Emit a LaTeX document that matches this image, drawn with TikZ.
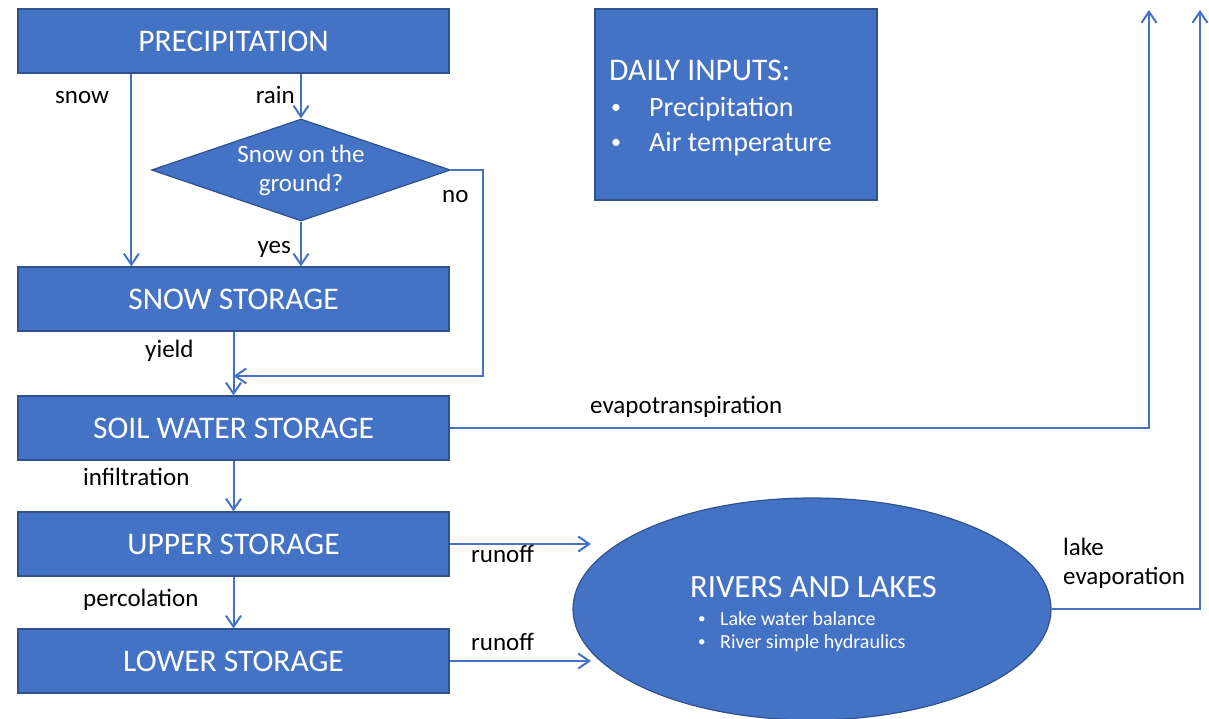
\documentclass[tikz,border=0pt]{standalone}
\usepackage{fontspec}
\setmainfont{Carlito}
\usetikzlibrary{shapes.geometric,arrows.meta}
\definecolor{fillblue}{HTML}{4472C4}
\definecolor{edgeblue}{HTML}{2F528F}
\tikzset{
  box/.style={draw=edgeblue,line width=1.2pt,fill=fillblue,text=white,
    minimum width=431pt,minimum height=64pt,inner sep=0pt,
    font=\fontsize{31.5}{36}\selectfont},
  lbl/.style={inner sep=0pt,font=\fontsize{25}{28}\selectfont},
  wtxt/.style={inner sep=0pt,text=white,anchor=base west},
  flow/.style={draw=fillblue,line width=2pt,
    -{Straight Barb[length=11pt,width=15pt,line width=2pt]}},
}
\begin{document}
\begin{tikzpicture}[x=1pt,y=-1pt]
\useasboundingbox (0,0) rectangle (1209,718);

% storages
\node[box] (precip) at (233.5,41) {PRECIPITATION};
\node[box] (snowst) at (233.5,299) {SNOW STORAGE};
\node[box] (soil) at (233.5,428) {SOIL WATER STORAGE};
\node[box] (upper) at (233.5,544) {UPPER STORAGE};
\node[box] (lower) at (233.5,661) {LOWER STORAGE};
\node[box,diamond,aspect=3,minimum width=299pt,minimum height=102pt,
  font=\fontsize{25}{29}\selectfont,align=center] (ground) at (301,170)
  {\raisebox{-3pt}{Snow on the}\\\raisebox{-3pt}{ground?}};

% inputs
\node[box,minimum width=282pt,minimum height=191pt] (inputs) at (736,104.5) {};
\node[wtxt,font=\fontsize{31.5}{36}\selectfont] at (609,80) {DAILY INPUTS:};
\node[wtxt,font=\fontsize{20}{24}\selectfont] at (611,113) {•};
\node[wtxt,font=\fontsize{28}{32}\selectfont] at (649,116) {Precipitation};
\node[wtxt,font=\fontsize{20}{24}\selectfont] at (611,148) {•};
\node[wtxt,font=\fontsize{28}{32}\selectfont] at (649,151) {Air temperature};

% rivers and lakes
\node[box,ellipse,minimum width=478pt,minimum height=222pt] (rivers) at (812,609) {};
\node[wtxt,font=\fontsize{32.5}{36}\selectfont] at (690,597) {RIVERS AND LAKES};
\node[wtxt,font=\fontsize{15}{18}\selectfont] at (698,623) {•};
\node[wtxt,font=\fontsize{20}{24}\selectfont] at (720,625) {Lake water balance};
\node[wtxt,font=\fontsize{15}{18}\selectfont] at (698,646) {•};
\node[wtxt,font=\fontsize{20}{24}\selectfont] at (720,648) {River simple hydraulics};

% free ends
\coordinate (nobend) at (483,376);
\coordinate (etend) at (1149,10);
\coordinate (leend) at (1200,10);
\coordinate (runa) at (591,544);
\coordinate (runb) at (591,661);

\draw[flow] ([xshift=114pt]precip.south west) -- ([xshift=114pt]snowst.north west);
\draw[flow] (precip.south -| ground.north) -- (ground.north);
\draw[flow] (ground.south) -- (ground.south |- snowst.north);
\draw[flow] (ground.east) -| (nobend) -- (nobend -| snowst.south);
\draw[flow] (snowst.south) -- (soil.north);
\draw[flow] (soil.south) -- (upper.north);
\draw[flow] (upper.south) -- (lower.north);
\draw[flow] (soil.east) -| (etend);
\draw[flow] (rivers.east) -| (leend);
\draw[flow] (upper.east) -- (runa);
\draw[flow] (lower.east) -- (runb);

% labels
\node[lbl,anchor=base west] at (55,103) {snow};
\node[lbl,anchor=base east] at (295,103) {rain};
\node[lbl,anchor=base west] at (442,202) {no};
\node[lbl,anchor=base east] at (291,253) {yes};
\node[lbl,anchor=base west] at (145,357) {yield};
\node[lbl,anchor=base west] at (590,413) {evapotranspiration};
\node[lbl,anchor=base west] at (83,485) {infiltration};
\node[lbl,anchor=base west] at (471,562) {runoff};
\node[lbl,anchor=base west] at (83,606) {percolation};
\node[lbl,anchor=base west] at (471,650) {runoff};
\node[lbl,anchor=base west] at (1063,555) {lake};
\node[lbl,anchor=base west] at (1063,584) {evaporation};
\end{tikzpicture}
\end{document}
